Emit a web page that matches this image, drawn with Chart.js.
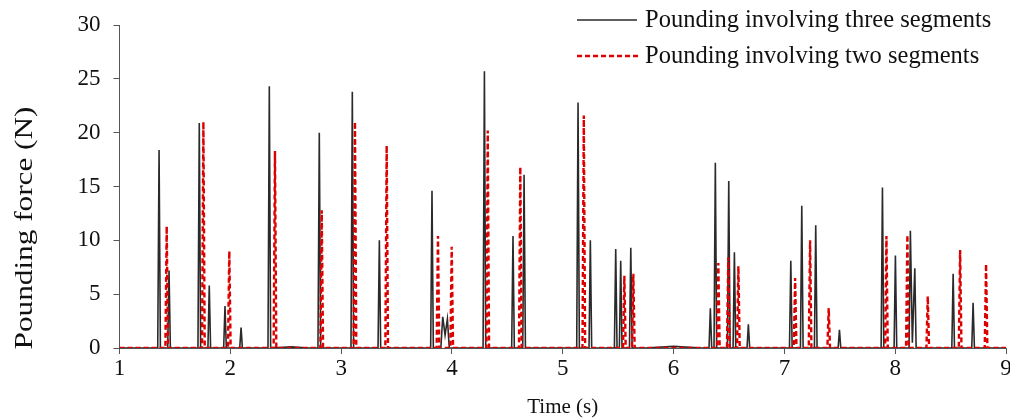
<!DOCTYPE html>
<html>
<head>
<meta charset="utf-8">
<script src="https://cdn.jsdelivr.net/npm/chart.js@4/dist/chart.umd.min.js"></script>
<style>
html,body{margin:0;padding:0;background:#fff;overflow:hidden;}
#wrap{position:relative;width:1010px;height:420px;}
</style>
</head>
<body>
<div id="wrap"><canvas id="c"></canvas></div>
<script>
// ---- Data ----
const seriesLabels = ['Pounding involving three segments', 'Pounding involving two segments'];

const timeThree = [
  1.000, 1.345, 1.357, 1.369, 1.435, 1.447, 1.459,
  1.708, 1.720, 1.732, 1.798, 1.810, 1.822,
  1.940, 1.952, 1.964, 2.085, 2.097, 2.109,
  2.340, 2.352, 2.364, 2.450, 2.550, 2.700,
  2.791, 2.803, 2.815, 3.089, 3.101, 3.113,
  3.333, 3.345, 3.357, 3.808, 3.820, 3.832,
  3.900, 3.917, 3.938, 3.959, 3.976,
  4.281, 4.293, 4.305, 4.539, 4.551, 4.563,
  4.639, 4.651, 4.663, 5.126, 5.138, 5.150,
  5.237, 5.249, 5.261, 5.466, 5.478, 5.490,
  5.511, 5.523, 5.535, 5.602, 5.614, 5.626,
  5.750, 6.000, 6.250,
  6.320, 6.332, 6.344, 6.365, 6.377, 6.389,
  6.486, 6.498, 6.510, 6.537, 6.549, 6.561,
  6.663, 6.675, 6.687, 7.046, 7.058, 7.070,
  7.145, 7.157, 7.169, 7.271, 7.283, 7.295,
  7.485, 7.497, 7.509, 7.873, 7.885, 7.897,
  7.990, 8.002, 8.014, 8.125, 8.137, 8.155, 8.177, 8.189,
  8.511, 8.523, 8.535, 8.691, 8.703, 8.715, 9.000
];
const forceThree = [
  0, 0, 18.4, 0, 0, 7.2, 0,
  0, 20.9, 0, 0, 5.8, 0,
  0, 3.9, 0, 0, 1.9, 0,
  0, 24.3, 0, 0.05, 0.1, 0,
  0, 20.0, 0, 0, 23.8, 0,
  0, 10.0, 0, 0, 14.6, 0,
  0, 2.9, 1.2, 2.7, 0,
  0, 25.7, 0, 0, 10.4, 0,
  0, 16.1, 0, 0, 22.8, 0,
  0, 10.0, 0, 0, 9.2, 0,
  0, 8.1, 0, 0, 9.3, 0,
  0, 0.15, 0,
  0, 3.7, 0, 0, 17.2, 0,
  0, 15.5, 0, 0, 8.9, 0,
  0, 2.2, 0, 0, 8.1, 0,
  0, 13.2, 0, 0, 11.4, 0,
  0, 1.7, 0, 0, 14.9, 0,
  0, 8.6, 0, 0, 10.9, 0.5, 7.4, 0,
  0, 6.9, 0, 0, 4.2, 0, 0
];

const timeTwo = [
  1.000, 1.414, 1.426, 1.438, 1.745, 1.757, 1.769,
  1.979, 1.991, 2.003, 2.391, 2.403, 2.415,
  2.813, 2.825, 2.837, 3.113, 3.125, 3.137,
  3.399, 3.411, 3.423, 3.862, 3.874, 3.886,
  3.986, 3.998, 4.010, 4.311, 4.323, 4.335,
  4.605, 4.617, 4.629, 5.178, 5.190, 5.202,
  5.544, 5.556, 5.568, 5.625, 5.637, 5.649,
  6.392, 6.404, 6.416, 6.482, 6.494, 6.506,
  6.573, 6.585, 6.597, 7.085, 7.097, 7.109,
  7.220, 7.232, 7.244, 7.388, 7.400, 7.412,
  7.909, 7.921, 7.933, 8.098, 8.110, 8.122,
  8.282, 8.294, 8.306, 8.574, 8.586, 8.598,
  8.808, 8.820, 8.832, 9.000
];
const forceTwo = [
  0, 0, 11.3, 0, 0, 21.0, 0,
  0, 9.0, 0, 0, 18.3, 0,
  0, 12.8, 0, 0, 21.0, 0,
  0, 18.8, 0, 0, 10.4, 0,
  0, 9.4, 0, 0, 20.2, 0,
  0, 16.8, 0, 0, 21.6, 0,
  0, 6.7, 0, 0, 6.9, 0,
  0, 7.9, 0, 0, 8.4, 0,
  0, 7.6, 0, 0, 6.5, 0,
  0, 10.0, 0, 0, 3.7, 0,
  0, 10.4, 0, 0, 10.5, 0,
  0, 4.8, 0, 0, 9.1, 0,
  0, 7.8, 0, 0
];

const xTicks = [1, 2, 3, 4, 5, 6, 7, 8, 9];
const yTicks = [0, 5, 10, 15, 20, 25, 30];
const xTitle = 'Time (s)';
const yTitle = 'Pounding force (N)';

// ---- Chart ----
const FONT = "'Liberation Serif', 'Times New Roman', serif";
const toPoints = (xs, ys) => xs.map((x, i) => ({ x: x, y: ys[i] }));

const legendPlugin = {
  id: 'customLegend',
  afterDraw(chart) {
    const ctx = chart.ctx;
    const rows = [
      { y: 20, x0: 577, x1: 637, ds: chart.data.datasets[0] },
      { y: 56, x0: 577, x1: 640, ds: chart.data.datasets[1] }
    ];
    ctx.save();
    rows.forEach(r => {
      ctx.beginPath();
      ctx.strokeStyle = r.ds.borderColor;
      ctx.lineWidth = r.ds.borderWidth;
      ctx.setLineDash(r.ds.borderDash || []);
      ctx.moveTo(r.x0, r.y);
      ctx.lineTo(r.x1, r.y);
      ctx.stroke();
      ctx.setLineDash([]);
      ctx.fillStyle = '#111';
      ctx.font = "24.5px " + FONT;
      ctx.textBaseline = 'middle';
      ctx.textAlign = 'left';
      ctx.fillText(r.ds.label, 645, r.y + 1);
    });
    // y-axis title
    ctx.translate(25, 228);
    ctx.rotate(-Math.PI / 2);
    ctx.scale(1.25, 1);
    ctx.font = "25px " + FONT;
    ctx.textAlign = 'center';
    ctx.textBaseline = 'middle';
    ctx.fillText(yTitle, 0, 0);
    ctx.restore();
  }
};

new Chart(document.getElementById('c'), {
  type: 'line',
  data: {
    datasets: [
      {
        label: seriesLabels[0],
        data: toPoints(timeThree, forceThree),
        borderColor: '#2a2a2a',
        borderWidth: 1.6,
        pointRadius: 0,
        tension: 0,
        order: 1
      },
      {
        label: seriesLabels[1],
        data: toPoints(timeTwo, forceTwo),
        borderColor: '#dd0000',
        borderWidth: 2.4,
        borderDash: [5, 3],
        pointRadius: 0,
        tension: 0,
        order: 0
      }
    ]
  },
  options: {
    responsive: true,
    maintainAspectRatio: false,
    animation: false,
    layout: { padding: { top: 25, right: 4, bottom: 0, left: 0 } },
    plugins: {
      legend: { display: false },
      tooltip: { enabled: false }
    },
    scales: {
      x: {
        type: 'linear',
        min: xTicks[0],
        max: xTicks[xTicks.length - 1],
        afterBuildTicks: s => { s.ticks = xTicks.map(v => ({ value: v })); },
        ticks: { color: '#111', font: { family: FONT, size: 23 }, padding: 1, maxRotation: 0 },
        grid: { display: true, drawOnChartArea: false, drawTicks: true, tickLength: 6, color: '#555' },
        border: { display: true, color: '#555', width: 1 },
        title: { display: true, text: xTitle, color: '#111', font: { family: FONT, size: 21 }, padding: { top: 2, bottom: 0 } },
        afterFit: s => { s.height = 72; s.paddingLeft = 0; s.paddingRight = 0; }
      },
      y: {
        min: yTicks[0],
        max: yTicks[yTicks.length - 1],
        afterBuildTicks: s => { s.ticks = yTicks.map(v => ({ value: v })); },
        ticks: { color: '#111', font: { family: FONT, size: 23 }, padding: 13 },
        grid: { display: true, drawOnChartArea: false, drawTicks: true, tickLength: 6, color: '#555' },
        border: { display: true, color: '#555', width: 1 },
        title: { display: false },
        afterFit: s => { s.width = 119.5; s.paddingTop = 0; s.paddingBottom = 0; }
      }
    }
  },
  plugins: [legendPlugin]
});
</script>
</body>
</html>
